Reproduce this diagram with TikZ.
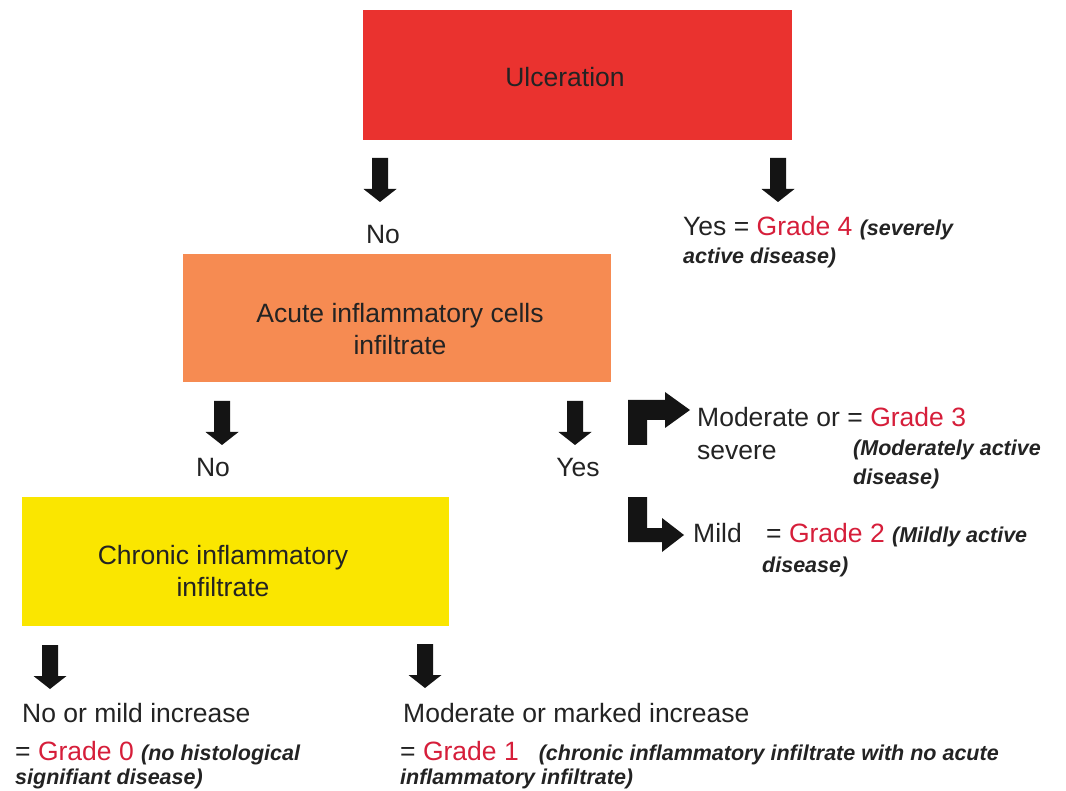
\documentclass[tikz,border=0pt]{standalone}
\usepackage{fontspec}
\setmainfont{Liberation Sans}
\definecolor{ulcred}{RGB}{234,50,47}
\definecolor{acuteor}{RGB}{246,139,82}
\definecolor{chronyel}{RGB}{250,230,0}
\definecolor{gradered}{RGB}{214,30,58}
\definecolor{txtgray}{RGB}{35,35,35}
\newcommand\notetxt[1]{{\fontsize{21.5}{28}\selectfont\bfseries\itshape #1}}
\newcommand\gradetxt[1]{\textcolor{gradered}{#1}}
\begin{document}
\begin{tikzpicture}[x=1pt,y=-1pt,
  box/.style={rectangle, inner sep=0pt, outer sep=0pt, draw=none},
  boxtext/.style={font=\fontsize{26.5}{32}\selectfont, align=center, text=txtgray, inner sep=0pt},
  lbl/.style={font=\fontsize{26.5}{30}\selectfont, anchor=base west, inner sep=0pt, text=txtgray},
  lblc/.style={lbl, anchor=base},
  darrow/.pic={\fill[black!92] (-8,0) -- (8,0) -- (8,31) -- (16.5,31) -- (0,44) -- (-16.5,31) -- (-8,31) -- cycle;}
]
\useasboundingbox[fill=white] (0,0) rectangle (1066,791);

% boxes
\node[box, fill=ulcred, minimum width=429pt, minimum height=130pt] (ulc) at (577.5,75) {};
\node[boxtext] (ulct) at (565,77) {Ulceration};
\node[box, fill=acuteor, minimum width=428pt, minimum height=128pt] (acute) at (397,318) {};
\node[boxtext] (acutet) at (400,329) {Acute inflammatory cells\\infiltrate};
\node[box, fill=chronyel, minimum width=427pt, minimum height=129pt] (chron) at (235.5,561.5) {};
\node[boxtext] (chront) at (223,571) {Chronic inflammatory\\infiltrate};

% down arrows
\pic at (380,158) {darrow};
\pic at (778,158) {darrow};
\pic at (222,401) {darrow};
\pic at (575,401) {darrow};
\pic at (50,645) {darrow};
\pic at (425,644) {darrow};

% bent arrows
\fill[black!92] (628,445) -- (628,400) -- (665,400) -- (665,392) -- (690,410) -- (665,428) -- (665,420) -- (647,420) -- (647,445) -- cycle;
\fill[black!92] (628,497) -- (647,497) -- (647,528) -- (662,528) -- (662,518) -- (684,535) -- (662,552) -- (662,542) -- (628,542) -- cycle;

% labels level 1
\node[lblc] (no1) at (383,244) {No};
\node[lbl] (yes1) at (683,236) {Yes = \gradetxt{Grade 4} \notetxt{(severely}};
\node[lbl] (yes1b) at (683,264) {\notetxt{active disease)}};

% labels level 2
\node[lblc] (no2) at (213,477) {No};
\node[lblc] (yes2) at (578,477) {Yes};
\node[lbl] (mod) at (697,427) {Moderate or = \gradetxt{Grade 3}};
\node[lbl] (sev) at (697,460) {severe};
\node[lbl] (g3a) at (853,456) {\notetxt{(Moderately active}};
\node[lbl] (g3b) at (853,485) {\notetxt{disease)}};
\node[lbl] (mild) at (693,542) {Mild};
\node[lbl] (g2) at (766,542) {= \gradetxt{Grade 2} \notetxt{(Mildly active}};
\node[lbl] (g2b) at (762,572) {\notetxt{disease)}};

% labels level 3
\node[lbl] (nomild) at (22,722) {No or mild increase};
\node[lbl] (g0) at (15,760) {= \gradetxt{Grade 0} \notetxt{(no histological}};
\node[lbl] (g0b) at (15,784) {\notetxt{signifiant disease)}};
\node[lbl] (modmark) at (403,722) {Moderate or marked increase};
\node[lbl] (g1) at (400,760) {= \gradetxt{Grade 1}\hspace{20pt}\notetxt{(chronic inflammatory infiltrate with no acute}};
\node[lbl] (g1b) at (400,784) {\notetxt{inflammatory infiltrate)}};
\end{tikzpicture}
\end{document}
